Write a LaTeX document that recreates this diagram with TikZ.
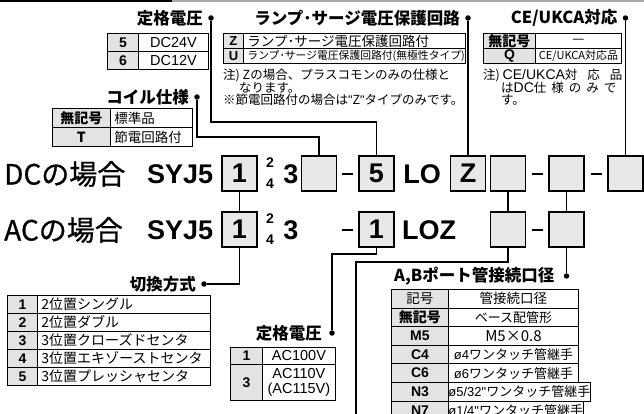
\documentclass[tikz,border=0pt]{standalone}
\usepackage{fontspec}
\setmainfont{Noto Sans CJK JP}
\newfontfamily\helv{Liberation Sans}
\newfontfamily\midjp{Noto Sans CJK JP}[FakeBold=0.8]
\usetikzlibrary{positioning}
\definecolor{boxfill}{HTML}{E8E8E8}
\definecolor{keyfill}{HTML}{E3E3E3}
\definecolor{barmid}{HTML}{A6A6A6}
\newcommand\fsz[1]{\fontsize{#1}{#1}\selectfont}
\tikzset{
  codebox/.style={draw,fill=boxfill,line width=1.2pt,minimum width=35,minimum height=35,inner sep=0pt,font=\helv\bfseries\fsz{27}},
  code/.style={inner sep=0pt,font=\helv\bfseries\fsz{27}},
  idx/.style={inner sep=0pt,font=\helv\bfseries\fsz{14}},
  rowname/.style={anchor=west,inner sep=0pt,font=\midjp\fsz{28}},
  hyph/.style={inner sep=0pt},
  lead/.style={draw,line width=1.2pt},
  pin/.style={circle,fill,inner sep=0pt,minimum size=5.5},
  title/.style={inner sep=0pt,font=\bfseries\fsz{16.5}},
  keycell/.style={draw,fill=keyfill,line width=.9pt,anchor=north west,inner sep=0pt,font=\bfseries\fsz{14}},
  valcell/.style={draw,fill=white,line width=.9pt,anchor=north west,inner sep=0pt,font=\fsz{13.5}},
  leftval/.style={valcell,align=left,inner xsep=4pt},
  note/.style={anchor=west,inner sep=0pt,font=\fsz{12.5}}}
\begin{document}
\begin{tikzpicture}[x=1pt,y=-1pt]
\useasboundingbox (0,0) rectangle (644,414);\clip (0,0) rectangle (644,414);
\fill[black] (0,0) rectangle (172,2.5);\fill[barmid] (172,0) rectangle (644,2.5);
% DC row
\node[rowname] (dcname) at (4,174) {DCの場合};\node[code,anchor=west] (dcsyj) at (147,174) {SYJ5};
\node[codebox] (bSw) at (239.5,173.5) {1};
\node[idx] (dc2) at (270,163) {2};\node[idx] (dc4) at (270,184) {4};\node[code] (dc3) at (291,174) {3};
\node[codebox] (bCoil) at (319,173.5) {};\node[hyph] (dch1) at (347,174) {\rule{11pt}{2pt}};
\node[codebox] (bV) at (376.5,173.5) {5};\node[code] (dclo) at (422,174) {LO};
\node[codebox] (bZ) at (468,173.5) {Z};\node[codebox] (bX) at (508,173.5) {};
\node[hyph] (dch2) at (537.5,174) {\rule{11pt}{2pt}};\node[codebox] (bPort) at (566.5,173.5) {};
\node[hyph] (dch3) at (596.5,174) {\rule{11pt}{2pt}};\node[codebox] (bCE) at (625.5,173.5) {};
% AC row
\node[rowname] (acname) at (4,230) {ACの場合};\node[code,anchor=west] (acsyj) at (147,230) {SYJ5};
\node[codebox] (aSw) at (239.5,229.5) {1};
\node[idx] (ac2) at (270,219) {2};\node[idx] (ac4) at (270,240) {4};\node[code] (ac3) at (291,230) {3};
\node[hyph] (ach1) at (347,230) {\rule{11pt}{2pt}};\node[codebox] (aV) at (376.5,229.5) {1};
\node[code,anchor=west] (acloz) at (402,230) {LOZ};\node[codebox] (aX) at (508,229.5) {};
\node[hyph] (ach2) at (537.5,230) {\rule{11pt}{2pt}};\node[codebox] (aPort) at (566.5,229.5) {};
% titles
\node[pin] (pVdc) at (211,18) {};\node[title,left=5pt of pVdc] (tVdc) {定格電圧};
\node[pin] (pLamp) at (bZ |- 0,18) {};\node[title,left=5pt of pLamp] (tLamp) {ランプ･サージ電圧保護回路};
\node[pin] (pCE) at (bCE |- 0,18) {};\node[title,left=5pt of pCE] (tCE) {CE/UKCA対応};
\node[pin] (pCoil) at (197,97) {};\node[title,left=5pt of pCoil] (tCoil) {コイル仕様};
\node[pin] (pSw) at (204,284) {};\node[title,left=5pt of pSw] (tSw) {切換方式};
\node[pin] (pVac) at (332,333) {};\node[title,left=7pt of pVac] (tVac) {定格電圧};
\node[pin] (pPort) at (bPort |- 0,276) {};\node[title,left=9pt of pPort] (tPort) {A,Bポート管接続口径};
% tables
\foreach \k/\v [count=\i] in {5/DC24V,6/DC12V}{
  \node[keycell,minimum width=31,minimum height=18,font=\helv\bfseries\fsz{14}] (kV\i) at (107,15+18*\i) {\k};
  \node[valcell,minimum width=70,minimum height=18,font=\helv\fsz{14.5}] (vV\i) at (138,15+18*\i) {\v};}
\node[keycell,minimum width=20,minimum height=15,font=\helv\bfseries\fsz{13}] (kZ) at (223,33) {Z};
\node[leftval,minimum width=222,text width=214,minimum height=15,font=\fsz{13.5}] (vZ) at (243,33) {ランプ･サージ電圧保護回路付};
\node[keycell,minimum width=20,minimum height=15,font=\helv\bfseries\fsz{13}] (kU) at (223,48) {U};
\node[leftval,minimum width=222,text width=214,minimum height=15,font=\fsz{10.8}] (vU) at (243,48) {ランプ･サージ電圧保護回路付(無極性タイプ)};
\node[note] (nZ1) at (223,75) {注) Zの場合、プラスコモンのみの仕様と};
\node[note] (nZ2) at (239,87.5) {なります。};
\node[note] (nZ3) at (223,100) {※節電回路付の場合は{\helv"}Z{\helv"}タイプのみです。};
\node[keycell,minimum width=52,minimum height=15] (kCE1) at (483,33) {無記号};
\node[valcell,minimum width=86,minimum height=15] (vCE1) at (535,33) {—};
\node[keycell,minimum width=52,minimum height=15,font=\helv\bfseries\fsz{14}] (kCE2) at (483,48) {Q};
\node[valcell,minimum width=86,minimum height=15,font=\fsz{11}] (vCE2) at (535,48) {CE/UKCA対応品};
\node[note] (nC1) at (483,75) {注) {\helv\fsz{14}CE/UKCA}対\hspace{10pt}応\hspace{10pt}品};
\node[note] (nC2) at (501,87.5) {は{\helv\fsz{14}DC}仕\hspace{5pt}様\hspace{5pt}の\hspace{5pt}み\hspace{5pt}で};
\node[note] (nC3) at (501,100) {す。};
\foreach \k/\v [count=\i] in {無記号/標準品,T/節電回路付}{
  \node[keycell,minimum width=58,minimum height=19] (kC\i) at (52,89+19*\i) {\k};
  \node[leftval,minimum width=82,text width=74,minimum height=19] (vC\i) at (110,89+19*\i) {\v};}
\foreach \k/\v [count=\i] in {1/2位置シングル,2/2位置ダブル,3/3位置クローズドセンタ,4/3位置エキゾーストセンタ,5/3位置プレッシャセンタ}{
  \node[keycell,minimum width=30,minimum height=18,font=\helv\bfseries\fsz{14}] (kS\i) at (7,277+18*\i) {\k};
  \node[leftval,minimum width=173,text width=165,minimum height=18,font=\fsz{14}] (vS\i) at (37,277+18*\i) {\v};}
\node[keycell,minimum width=32,minimum height=17,font=\helv\bfseries\fsz{14}] (kA1) at (230,347) {1};
\node[valcell,minimum width=73,minimum height=17,font=\helv\fsz{14.5}] (vA1) at (262,347) {AC100V};
\node[keycell,minimum width=32,minimum height=36,font=\helv\bfseries\fsz{14}] (kA2) at (230,364) {3};
\node[valcell,minimum width=73,minimum height=36,align=center,font=\helv\fontsize{14.5}{15}\selectfont] (vA2) at (262,364) {AC110V\\(AC115V)};
\node[keycell,minimum width=57,minimum height=18.6,font=\fsz{13.5}] (kP0) at (391,289) {記号};
\node[valcell,minimum width=130,minimum height=18.6] (vP0) at (448,289) {管接続口径};
\foreach \k/\v [count=\i] in {無記号/ベース配管形,{\helv M5}/{\fsz{15}M5×0.8},{\helv C4}/{\helv ø4}ワンタッチ管継手,{\helv C6}/{\helv ø6}ワンタッチ管継手,{\helv N3}/{{\helv ø5/32"}ワンタッチ管継手},{\helv N7}/{{\helv ø1/4"}ワンタッチ管継手}}{
  \node[keycell,minimum width=57,minimum height=18.6] (kP\i) at (391,289+18.6*\i) {\k};
  \node[valcell,minimum width=130,minimum height=18.6,font=\fsz{13}] (vP\i) at (448,289+18.6*\i) {\v};}
% leaders
\coordinate (xEnd) at (356,420);
\draw[lead] (pVdc) -- (pVdc |- 0,122) -| (bV.north);
\draw[lead] (pLamp) -- (bZ.north);\draw[lead] (pCE) -- (bCE.north);
\draw[lead] (pCoil) -- (pCoil |- 0,137) -| (bCoil.north);
\draw[lead] (bSw.south) -- (aSw.north) (aSw.south) |- (pSw);
\draw[lead] (bX.south) -- (aX.north) (aX.south) -- (aX.south |- 0,262) -| (xEnd);
\draw[lead] (bPort.south) -- (aPort.north) (aPort.south) -- (pPort);
\draw[lead] (aV.south) -- (aV.south |- 0,254) -| (pVac);
\end{tikzpicture}
\end{document}
